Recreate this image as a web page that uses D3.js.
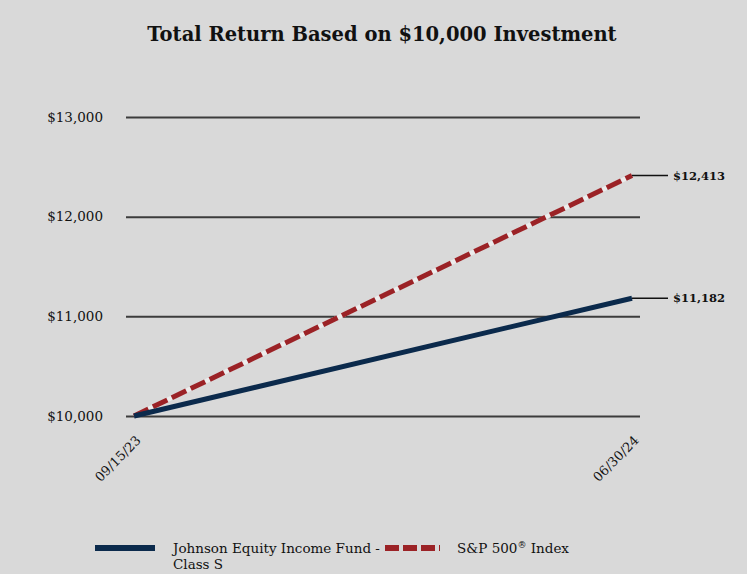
<!doctype html>
<html lang="en">
<head>
    <meta charset="utf-8" />
    <title>Total Return Based on $10,000 Investment</title>
    <script src="https://d3js.org/d3.v7.min.js"></script>
    <style>
        body { margin: 0; background: #d9d9d9; }
        text { font-family: "DejaVu Serif", "Liberation Serif", serif; }
    </style>
</head>
<body>
    <div id="chart"></div>
    <script>
        // data
        const dates = ["09/15/23", "06/30/24"]
        const fundValues = [10000, 11182]
        const indexValues = [10000, 12413]
        const yTicks = [10000, 11000, 12000, 13000]
        const seriesNames = ["Johnson Equity Income Fund - Class S", "S&P 500® Index"]

        const width = 747, height = 574
        const fundColor = "#0b2a4c", indexColor = "#9b2226"

        const svg = d3.select("#chart").append("svg")
            .attr("width", width)
            .attr("height", height)

        svg.append("rect").attr("width", width).attr("height", height).attr("fill", "#d9d9d9")

        svg.append("text")
            .attr("x", 382).attr("y", 41)
            .attr("text-anchor", "middle")
            .attr("font-size", 19.5).attr("font-weight", "bold")
            .attr("fill", "#111")
            .text("Total Return Based on $10,000 Investment")

        const x = d3.scalePoint().domain(dates).range([134, 632])
        const y = d3.scaleLinear().domain([10000, 13000]).range([416, 117])

        // gridlines + y labels
        const yAxis = d3.axisLeft(y).tickValues(yTicks)
            .tickSize(-(640 - 126))
            .tickFormat(d => "$" + d3.format(",")(d))
        const gy = svg.append("g").attr("transform", "translate(126,0)").call(yAxis)
        gy.select(".domain").remove()
        gy.selectAll(".tick line").attr("stroke", "#3c3c3c").attr("stroke-width", 2)
        gy.selectAll(".tick text").attr("x", -23).attr("font-size", 13.5).attr("fill", "#111")
            .attr("font-family", "DejaVu Serif, serif")

        // x labels
        const gx = svg.append("g").attr("transform", "translate(0,416)")
            .call(d3.axisBottom(x).tickSize(0))
        gx.select(".domain").remove()
        gx.selectAll(".tick text")
            .attr("font-size", 13).attr("fill", "#111")
            .attr("font-family", "DejaVu Serif, serif")
            .attr("text-anchor", "end")
            .attr("transform", "translate(4,22) rotate(-45)")
            .attr("x", 0).attr("y", 0).attr("dy", "0.35em")

        const line = d3.line().x((d, i) => x(dates[i])).y(d => y(d))

        // index line (dashed, light gaps)
        svg.append("path").datum(indexValues).attr("d", line)
            .attr("fill", "none").attr("stroke", "#ececec").attr("stroke-width", 4.5)
        svg.append("path").datum(indexValues).attr("d", line)
            .attr("fill", "none").attr("stroke", indexColor).attr("stroke-width", 5)
            .attr("stroke-dasharray", "16,5")

        svg.append("path").datum(fundValues).attr("d", line)
            .attr("fill", "none").attr("stroke", fundColor).attr("stroke-width", 5)

        // end labels with leader lines
        const last = dates.length - 1
        ;[indexValues, fundValues].forEach(vals => {
            const v = vals[last]
            svg.append("line")
                .attr("x1", x(dates[last])).attr("x2", 668)
                .attr("y1", y(v)).attr("y2", y(v))
                .attr("stroke", "#111").attr("stroke-width", 1.5)
            svg.append("text")
                .attr("x", 673).attr("y", y(v)).attr("dy", "0.35em")
                .attr("font-size", 11.5).attr("font-weight", "bold").attr("fill", "#111")
                .text("$" + d3.format(",")(v))
        })

        // legend
        svg.append("line").attr("x1", 95).attr("x2", 155).attr("y1", 548).attr("y2", 548)
            .attr("stroke", fundColor).attr("stroke-width", 6)
        svg.append("text").attr("x", 173).attr("y", 553).attr("font-size", 13.5).attr("fill", "#111")
            .text("Johnson Equity Income Fund -")
        svg.append("text").attr("x", 173).attr("y", 569).attr("font-size", 13.5).attr("fill", "#111")
            .text("Class S")

        svg.append("line").attr("x1", 385).attr("x2", 440).attr("y1", 548).attr("y2", 548)
            .attr("stroke", indexColor).attr("stroke-width", 6).attr("stroke-dasharray", "14,4")
        const t2 = svg.append("text").attr("x", 457).attr("y", 553).attr("font-size", 13.5).attr("fill", "#111")
        t2.append("tspan").text("S&P 500")
        t2.append("tspan").attr("font-size", 9).attr("dy", -5).text("®")
        t2.append("tspan").attr("dy", 5).text(" Index")
    </script>
</body>
</html>
